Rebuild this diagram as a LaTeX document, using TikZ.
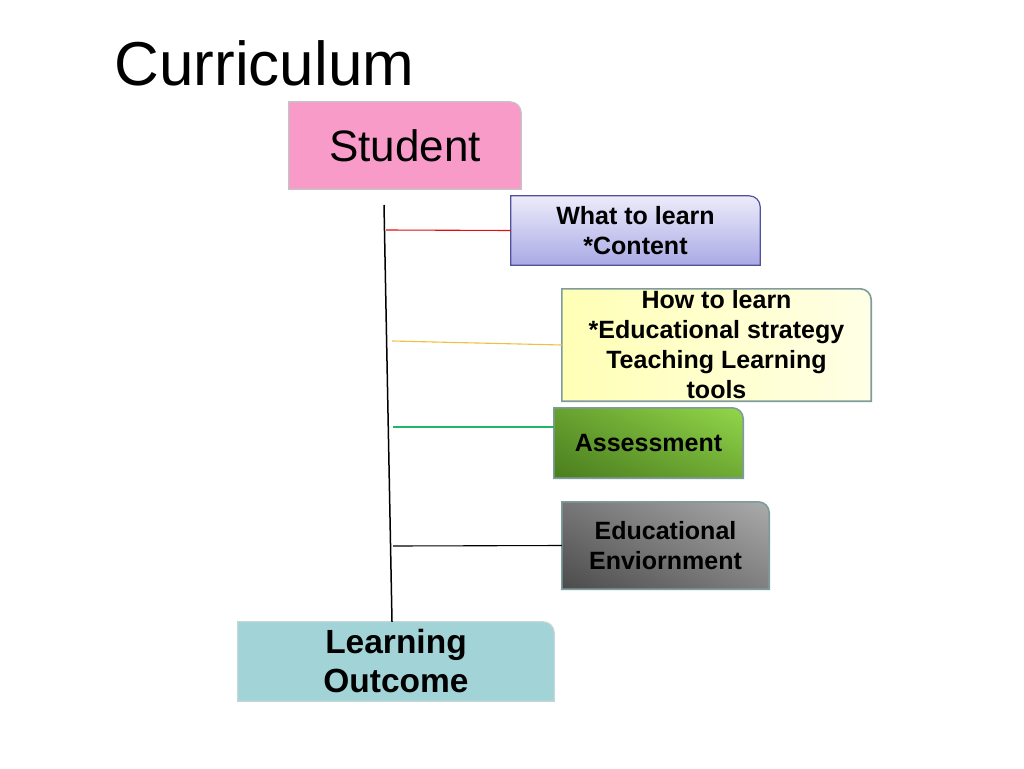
\documentclass[tikz,border=0pt]{standalone}
\usepackage{fontspec}
\setmainfont{Liberation Sans}
\usetikzlibrary{backgrounds,shadings}

\definecolor{studentpink}{HTML}{F99BC9}
\definecolor{studentedge}{HTML}{C4C4C4}
\definecolor{whattop}{HTML}{ECECFB}
\definecolor{whatbottom}{HTML}{A9A9E5}
\definecolor{whatedge}{HTML}{50509C}
\definecolor{howlight}{HTML}{FFFFE6}
\definecolor{howdark}{HTML}{FFFFB5}
\definecolor{boxedge}{HTML}{7E9C9C}
\definecolor{assessdark}{HTML}{4A7D1E}
\definecolor{assesslight}{HTML}{93D74A}
\definecolor{envdark}{HTML}{4B4B4B}
\definecolor{envlight}{HTML}{ABABAB}
\definecolor{outcometeal}{HTML}{A2D4D7}
\definecolor{outcomeedge}{HTML}{C2D6D8}
\definecolor{branchred}{HTML}{E01010}
\definecolor{branchyellow}{HTML}{F0C040}
\definecolor{branchgreen}{HTML}{22B46A}

\tikzset{
  box/.style={inner sep=0pt, align=center, font=\bfseries\fontsize{25}{30}\selectfont},
  studentfill/.style={fill=studentpink, draw=studentedge, line width=1.2pt},
  whatfill/.style={top color=whattop, bottom color=whatbottom, draw=whatedge, line width=1.2pt},
  howfill/.style={left color=howdark, right color=howlight, draw=boxedge, line width=1.6pt},
  assessfill/.style={lower left=assessdark, upper left=assessdark!60!assesslight, lower right=assessdark!50!assesslight, upper right=assesslight, draw=boxedge, line width=1.6pt},
  envfill/.style={lower left=envdark, upper left=envdark!55!envlight, lower right=envdark!45!envlight, upper right=envlight, draw=boxedge, line width=1.6pt},
  outcomefill/.style={fill=outcometeal, draw=outcomeedge, line width=1.2pt},
  spine/.style={black, line width=1.5pt},
  branch/.style={line width=1.1pt}
}

\begin{document}
\begin{tikzpicture}[x=1pt,y=-1pt]
% Page size of the slide
\useasboundingbox (0,0) rectangle (1024,768);

% Title
\node[anchor=base west, font=\fontsize{62}{70}\selectfont] (title) at (111,85) {Curriculum};

% The boxes
\node[box, font=\fontsize{44}{50}\selectfont, minimum width=232pt, minimum height=87pt] (student) at (405,145.5) {Student};
\node[box, minimum width=249pt, minimum height=69pt] (whatbox) at (635.5,230.5) {What to learn\\*Content};
\node[box, minimum width=309pt, minimum height=112pt] (howbox) at (716.5,345) {How to learn\\*Educational strategy\\Teaching Learning\\tools};
\node[box, minimum width=189pt, minimum height=70pt] (assess) at (648.5,443) {Assessment};
\node[box, minimum width=207pt, minimum height=87pt] (envbox) at (665.5,545.5) {Educational\\Enviornment};
\node[box, font=\bfseries\fontsize{33.5}{39}\selectfont, minimum width=316pt, minimum height=79pt] (outcome) at (396,661.5) {Learning\\Outcome};

% Box shapes, only the top right corner is rounded
\begin{scope}[on background layer]
\fill[white] (0,0) rectangle (1024,768);
\foreach \n/\s in {student/studentfill, whatbox/whatfill, howbox/howfill, assess/assessfill, envbox/envfill, outcome/outcomefill}
  \path[\s] (\n.south west) -- (\n.north west) [rounded corners=11pt] -- (\n.north east) [sharp corners] -- (\n.south east) -- cycle;
\end{scope}

% Spine from the student down to the outcome
\coordinate (spinetop) at (384,205);
\draw[spine] (spinetop) -- ([xshift=-4pt]outcome.north);

% Branches to the boxes
\coordinate (whatstart) at (386,230);
\coordinate (howstart) at (392,341);
\coordinate (assessstart) at (393,427);
\coordinate (envstart) at (393,546);
\draw[branch, branchred] (whatstart) -- (whatbox.west);
\draw[branch, branchyellow] (howstart) -- (howbox.west);
\draw[branch, branchgreen] (assessstart) -- ([yshift=16pt]assess.west);
\draw[branch, black] (envstart) -- (envbox.west);
\end{tikzpicture}
\end{document}
